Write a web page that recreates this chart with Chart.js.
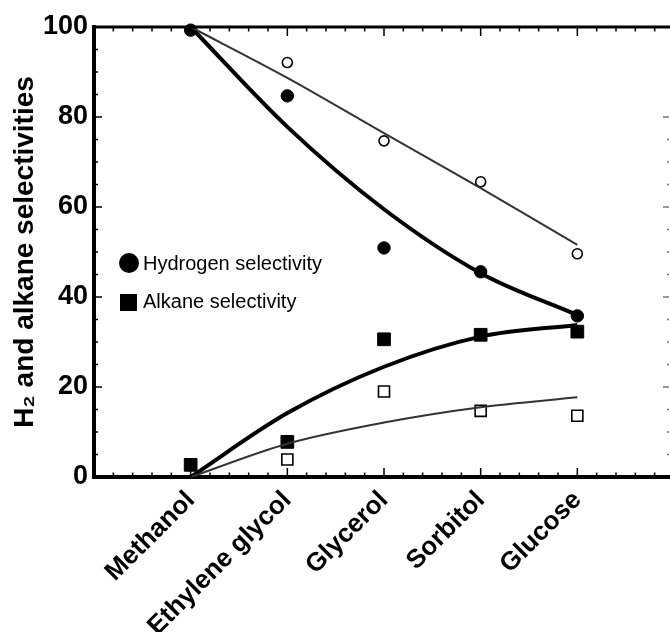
<!DOCTYPE html>
<html>
<head>
<meta charset="utf-8">
<script src="https://cdn.jsdelivr.net/npm/chart.js@4/dist/chart.umd.min.js"></script>
<style>
  html, body { margin: 0; padding: 0; background: #fff; overflow: hidden; }
  #wrap { width: 670px; height: 632px; overflow: hidden; }
</style>
</head>
<body>
<!-- the plot runs on past the right edge of the picture, so the canvas is a bit wider than the window -->
<div id="wrap"><canvas id="chart" width="684" height="632"></canvas></div>
<script>
// categories (empty slots give the space left of Methanol and right of Glucose)
const categories = ['', 'Methanol', 'Ethylene glycol', 'Glycerol', 'Sorbitol', 'Glucose', ''];

// measured points
const h2Filled  = [null, 99.3, 84.7, 50.9, 45.6, 35.8, null];
const h2Open    = [null, null, 92.1, 74.7, 65.6, 49.6, null];
const alkFilled = [null, 2.7, 7.8, 30.6, 31.6, 32.3, null];
const alkOpen   = [null, null, 3.9, 19.0, 14.7, 13.6, null];

const h2FitThick  = [null, 100, 77.8, 59.5, 45.3, 36.0, null];
const h2FitThin   = [null, 100, 88.7, 76.4, 64.2, 51.6, null];
const alkFitThick = [null, 0, 14.2, 24.5, 31.2, 33.8, null];
const alkFitThin  = [null, 0, 7.4, 12.1, 15.5, 17.7, null];

const yTicks = [0, 20, 40, 60, 80, 100];

const FONT = '"Liberation Sans", Arial, Helvetica, sans-serif';

// inward tick marks on all sides + top frame line
const frameTicks = {
    id: 'frameTicks',
    afterDraw(chart) {
        const { ctx, chartArea: a, scales: { x, y } } = chart;
        ctx.save();
        ctx.strokeStyle = '#000';

        // top border
        ctx.lineWidth = 3;
        ctx.beginPath();
        ctx.moveTo(a.left, a.top);
        ctx.lineTo(chart.width, a.top);
        ctx.stroke();

        ctx.lineWidth = 1.5;
        for (let i = 0; i <= 30; i++) {
            const v = i * 0.2;
            const px = x.getPixelForValue(v);
            const major = i % 5 === 0 && v >= 1 && v <= 5;
            const len = major ? 9 : 4.5;
            ctx.beginPath();
            ctx.moveTo(px, a.bottom);
            ctx.lineTo(px, a.bottom - len);
            ctx.moveTo(px, a.top);
            ctx.lineTo(px, a.top + len);
            ctx.stroke();
        }
        for (let v = 0; v <= 100; v += 5) {
            const py = y.getPixelForValue(v);
            const len = yTicks.includes(v) ? 8 : 4;
            ctx.beginPath();
            ctx.moveTo(a.left, py);
            ctx.lineTo(a.left + len, py);
            ctx.stroke();
        }
        // faint partial right-hand axis
        ctx.strokeStyle = '#777';
        for (let v = 5; v <= 80; v += 5) {
            const py = y.getPixelForValue(v);
            const len = v % 20 === 0 ? 6 : 2;
            ctx.beginPath();
            ctx.moveTo(669, py);
            ctx.lineTo(669 - len, py);
            ctx.stroke();
        }
        ctx.restore();
    }
};

// legend drawn inside the plot
const innerLegend = {
    id: 'innerLegend',
    afterDraw(chart) {
        const { ctx } = chart;
        ctx.save();
        ctx.fillStyle = '#000';
        ctx.beginPath();
        ctx.arc(129, 263, 10, 0, Math.PI * 2);
        ctx.fill();
        ctx.fillRect(120, 294, 17, 17);
        ctx.font = '20px ' + FONT;
        ctx.textBaseline = 'middle';
        ctx.fillText('Hydrogen selectivity', 143, 264);
        ctx.fillText('Alkane selectivity', 143, 302);
        ctx.restore();
    }
};

const curve = (data, width, color) => ({
    type: 'line',
    data: data,
    borderColor: color,
    borderWidth: width,
    pointRadius: 0,
    cubicInterpolationMode: 'monotone',
    fill: false,
    clip: false
});

const marks = (data, style, radius, filled) => ({
    type: 'line',
    data: data,
    showLine: false,
    pointStyle: style,
    pointRadius: radius,
    pointBorderWidth: filled ? 1 : 1.6,
    pointBorderColor: '#000',
    pointBackgroundColor: filled ? '#000' : '#fff',
    clip: false
});

new Chart(document.getElementById('chart'), {
    type: 'line',
    data: {
        labels: categories,
        datasets: [
            curve(h2FitThin, 2, '#333'),
            curve(alkFitThin, 2, '#333'),
            curve(h2FitThick, 4, '#000'),
            curve(alkFitThick, 4, '#000'),
            marks(h2Open, 'circle', 5, false),
            marks(alkOpen, 'rect', 7.8, false),
            marks(h2Filled, 'circle', 6.2, true),
            marks(alkFilled, 'rect', 9, true)
        ]
    },
    options: {
        responsive: false,
        animation: false,
        events: [],
        layout: { padding: { top: 27, right: 0, left: 0, bottom: 0 } },
        plugins: {
            legend: { display: false },
            tooltip: { enabled: false }
        },
        scales: {
            x: {
                type: 'category',
                offset: false,
                grid: { display: false, drawTicks: false },
                border: { display: true, width: 4, color: '#000' },
                ticks: {
                    autoSkip: false,
                    minRotation: 45,
                    maxRotation: 45,
                    padding: 8,
                    color: '#000',
                    font: { family: FONT, size: 26, weight: 'bold' }
                },
                afterFit(scale) {
                    scale.height = 155;
                    scale.paddingLeft = 0;
                    scale.paddingRight = 0;
                }
            },
            y: {
                min: 0,
                max: 100,
                grid: { display: false, drawTicks: false },
                border: { display: true, width: 4, color: '#000' },
                ticks: {
                    stepSize: 20,
                    padding: 6,
                    color: '#000',
                    font: { family: FONT, size: 27, weight: 'bold' }
                },
                title: {
                    display: true,
                    text: 'H\u2082 and alkane selectivities',
                    color: '#000',
                    padding: { top: 8, bottom: 0 },
                    font: { family: FONT, size: 28, weight: 'bold' }
                },
                afterFit(scale) { scale.width = 94; }
            }
        }
    },
    plugins: [frameTicks, innerLegend]
});
</script>
</body>
</html>
